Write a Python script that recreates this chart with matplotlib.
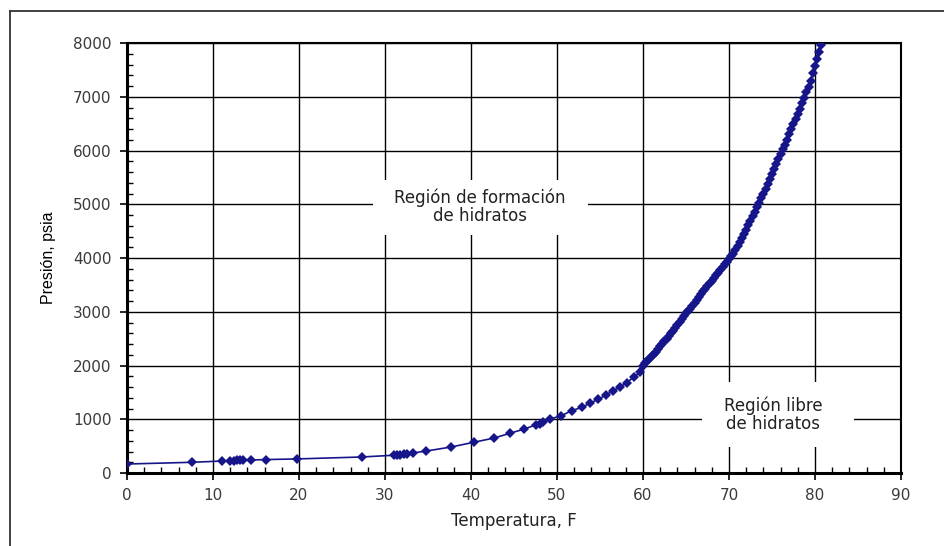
import matplotlib.pyplot as plt
from matplotlib.ticker import MultipleLocator
from matplotlib.lines import Line2D
from matplotlib.patches import Rectangle

# Hydrate formation curve (Temperatura F, Presion psia)
# lower part: separate markers
temp_low = [0, 7.5, 11.1, 12.0, 12.4, 12.8, 13.1, 13.5, 14.4, 16.2, 19.8, 27.3,
            31.0, 31.4, 31.8, 32.2, 32.6, 33.2, 34.8, 37.7, 40.3, 42.7, 44.5,
            46.2, 47.6, 48.0, 48.4, 49.2, 50.5, 51.7, 52.9, 53.8, 54.8, 55.7,
            56.5, 57.3, 58.1, 58.9, 59.7]
pres_low = [167, 199, 223, 228, 232, 235, 237, 240, 242, 250, 262, 298,
            330, 336, 342, 348, 356, 372, 409, 484, 571, 651, 738,
            818, 900, 920, 940, 1005, 1066, 1159, 1222, 1297, 1371, 1451,
            1531, 1594, 1680, 1780, 1873]
# upper part: markers packed into a solid band
temp_high = [60.0, 60.25, 60.5, 60.75, 61.0, 61.25, 61.5, 61.75, 62.0, 62.25,
             62.5, 62.75, 63.0, 63.25, 63.5, 63.75, 64.0, 64.25, 64.5, 64.75,
             65.0, 65.25, 65.5, 65.75, 66.0, 66.25, 66.5, 66.75, 67.0, 67.25,
             67.5, 67.75, 68.0, 68.25, 68.5, 68.75, 69.0, 69.25, 69.5, 69.75,
             70.0, 70.25, 70.5, 70.75, 71.0, 71.25, 71.5, 71.75, 72.0, 72.25,
             72.5, 72.75, 73.0, 73.25, 73.5, 73.75, 74.0, 74.25, 74.5, 74.75,
             75.0, 75.25, 75.5, 75.75, 76.0, 76.25, 76.5, 76.75, 77.0, 77.25,
             77.5, 77.75, 78.0, 78.25, 78.5, 78.75, 79.0, 79.25, 79.5, 79.75,
             80.0, 80.25, 80.5, 80.75, 81.0]
pres_high = [2000, 2045, 2090, 2130, 2170, 2215, 2260, 2310, 2360, 2405,
             2450, 2500, 2550, 2600, 2650, 2705, 2760, 2810, 2860, 2915,
             2970, 3015, 3060, 3115, 3170, 3220, 3270, 3325, 3380, 3430,
             3480, 3530, 3580, 3630, 3680, 3730, 3780, 3830, 3880, 3930,
             3980, 4030, 4080, 4150, 4220, 4295, 4370, 4450, 4530, 4610,
             4690, 4775, 4860, 4945, 5030, 5115, 5200, 5290, 5380, 5470,
             5560, 5650, 5740, 5835, 5930, 6020, 6110, 6205, 6300, 6395,
             6490, 6585, 6680, 6780, 6880, 6980, 7080, 7190, 7300, 7435,
             7570, 7705, 7840, 7970, 8100]

label_formacion = "Región de formación\nde hidratos"
label_libre = "Región libre\nde hidratos"

temp_f = temp_low + temp_high
pres_psia = pres_low + pres_high

fig = plt.figure(figsize=(9.45, 5.46), dpi=100)
ax = fig.add_axes([0.1344, 0.1337, 0.819, 0.7875])

# outer frame (only left and top visible in the crop)
fig.add_artist(Line2D([10/945, 10/945], [0, 1 - 11/546], transform=fig.transFigure,
                      color='#333333', lw=1.3))
fig.add_artist(Line2D([10/945, 1], [1 - 11/546, 1 - 11/546], transform=fig.transFigure,
                      color='#333333', lw=1.3))

ax.plot(temp_f, pres_psia, color='#16168a', lw=1.2, marker='D', markersize=5,
        markeredgewidth=0, zorder=3)

ax.set_xlim(0, 90)
ax.set_ylim(0, 8000)
ax.xaxis.set_major_locator(MultipleLocator(10))
ax.xaxis.set_minor_locator(MultipleLocator(2))
ax.yaxis.set_major_locator(MultipleLocator(1000))
ax.yaxis.set_minor_locator(MultipleLocator(200))
ax.grid(True, which='major', color='black', lw=1.0, zorder=1)
ax.tick_params(which='major', direction='out', length=5, width=1.2,
               labelsize=11, labelcolor='#3a3a3a', pad=6)
ax.tick_params(which='minor', direction='in', length=4, width=1.0)
for lab in ax.get_xticklabels() + ax.get_yticklabels():
    lab.set_fontfamily('DejaVu Sans')

for side in ['left', 'bottom']:
    ax.spines[side].set_linewidth(2.2)
for side in ['top', 'right']:
    ax.spines[side].set_linewidth(1.5)

ax.set_xlabel('Temperatura, F', fontsize=12, family='DejaVu Sans', color='#222222', labelpad=6)
ax.set_ylabel('Presión, psia', fontsize=11.5, family='Liberation Sans', labelpad=12)

# white boxes that break the grid around the labels
ax.add_patch(Rectangle((28.6, 4430), 25.0, 1020, facecolor='white', edgecolor='none', zorder=2))
ax.add_patch(Rectangle((66.9, 485), 17.6, 1210, facecolor='white', edgecolor='none', zorder=2))

ax.text(41.0, 4950, label_formacion, ha='center', va='center', fontsize=12,
        family='DejaVu Sans', color='#222222', zorder=4, linespacing=1.0)
ax.text(75.1, 1080, label_libre, ha='center', va='center', fontsize=12,
        family='DejaVu Sans', color='#222222', zorder=4, linespacing=1.0)

fig.savefig('out.png', dpi=100)
